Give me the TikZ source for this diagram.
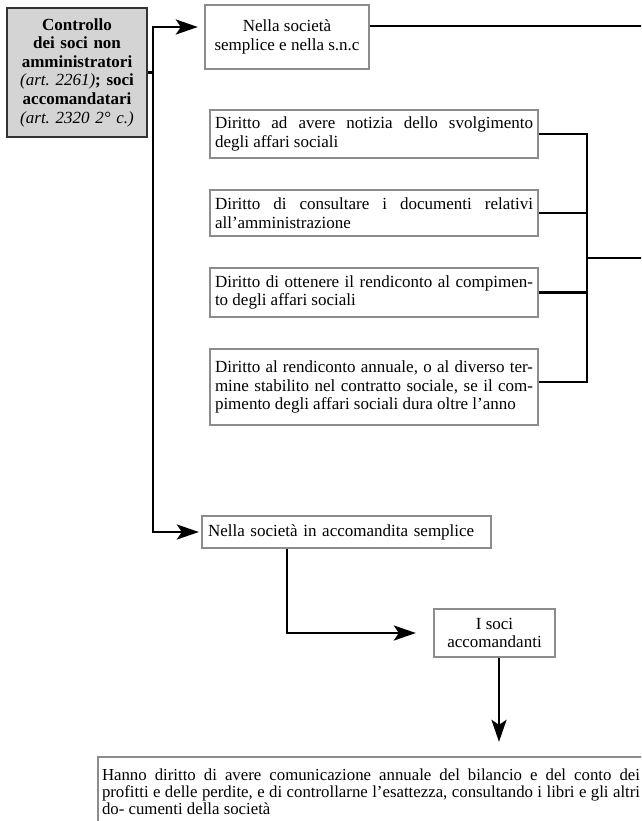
\documentclass[tikz,border=0pt]{standalone}
\usepackage{fontspec}
\setmainfont{Liberation Serif}
\usetikzlibrary{arrows.meta}
\begin{document}
\begin{tikzpicture}[x=1pt, y=-1pt, font=\fontsize{17}{18.6}\selectfont, >={Stealth[length=22pt,width=15pt,inset=5pt]},
	box/.style={draw=black!45, line width=2.3pt, fill=white, inner sep=0pt},
	dbox/.style={box, text width=318pt, align=justify, minimum width=328pt},
	conn/.style={line width=2.6pt}]
	\useasboundingbox (0,0) rectangle (641,821);
	\clip (0,0) rectangle (641,821);
	% boxes
	\node[box, fill=black!17, draw=black!80, text width=134pt, align=center, minimum width=140pt, minimum height=129pt, font=\fontsize{17}{18.6}\selectfont\bfseries] (main) at (77,72.5) {Controllo\\dei soci non\\amministratori\\{\mdseries\itshape (art.~2261)}; soci\\accomandatari\\{\mdseries\itshape (art.~2320 2°~c.)}};
	\node[box, align=center, minimum width=164pt, minimum height=64pt] (snc) at (287,37) {Nella società\\semplice e nella s.n.c};
	\node[dbox, minimum height=48pt] (d1) at (374,134) {Diritto ad avere notizia dello svolgimento\linebreak degli affari sociali};
	\node[dbox, minimum height=46pt] (d2) at (374,213) {Diritto di consultare i documenti relativi\linebreak all'amministrazione};
	\node[dbox, minimum height=49pt] (d3) at (374,292.5) {Diritto di ottenere il rendiconto al compimen-\linebreak to degli affari sociali};
	\node[dbox, minimum height=76pt] (d4) at (374,387) {Diritto al rendiconto annuale, o al diverso ter-\linebreak mine stabilito nel contratto sociale, se il com-\linebreak pimento degli affari sociali dura oltre l'anno};
	\node[box, text width=277pt, align=left, minimum width=289pt, minimum height=32pt] (acc) at (346.5,532) {Nella società in accomandita semplice};
	\node[box, align=center, minimum width=121pt, minimum height=48pt] (soci) at (494.5,633) {I soci\\accomandanti};
	\node[box, text width=538pt, align=justify, minimum width=546pt, minimum height=70pt, font=\fontsize{16.8}{17.2}\selectfont] (hanno) at (371,792) {Hanno diritto di avere comunicazione annuale del bilancio e del conto dei\linebreak profitti e delle perdite, e di controllarne l'esattezza, consultando i libri e gli altri\linebreak do- cumenti della società};
	% connectors
	\coordinate (tr) at (153,27);
	\coordinate (brk) at (587,258);
	\coordinate (rb) at (645,258);
	\draw[conn] (main.east) -- (main.east -| tr);
	\draw[conn, ->, shorten >=6pt] (main.east -| tr) |- ([yshift=10pt]snc.west);
	\draw[conn, ->, shorten >=2pt] (main.east -| tr) |- (acc.west);
	\draw[conn] ([yshift=11pt]snc.east) -- ([yshift=11pt]snc.east -| rb);
	\draw[conn] (d1.east) -| ([yshift=5pt]d4.east -| brk) -- ([yshift=5pt]d4.east);
	\foreach \n in {d2,d3} \draw[conn] (\n.east) -- (\n.east -| brk);
	\draw[conn] (brk) -- (rb);
	\draw[conn, ->, shorten >=17pt] ([xshift=-59.5pt]acc.south) |- (soci.west);
	\draw[conn, ->, shorten >=14pt] ([xshift=4.5pt]soci.south) -- ([xshift=4.5pt]soci.south |- hanno.north);
\end{tikzpicture}
\end{document}
